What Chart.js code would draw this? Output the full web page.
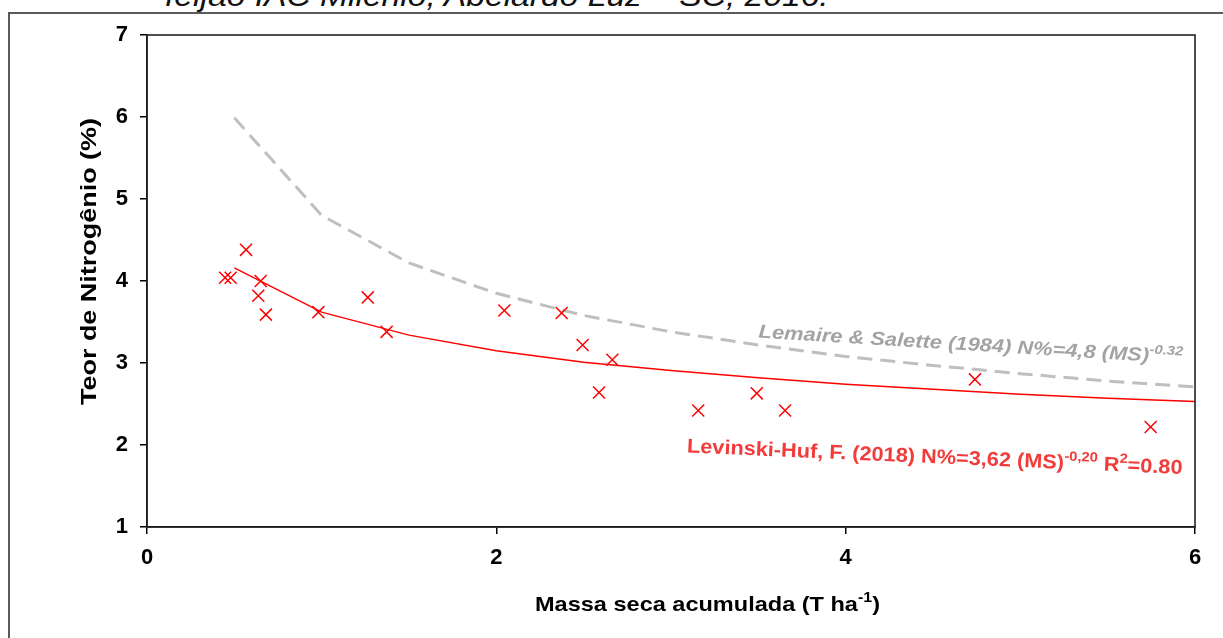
<!DOCTYPE html>
<html>
<head>
<meta charset="utf-8">
<script src="https://cdn.jsdelivr.net/npm/chart.js@4.4.1/dist/chart.umd.min.js"></script>
<style>
  html, body { margin: 0; padding: 0; background: #fff; overflow: hidden; }
  #wrap { position: relative; width: 1223px; height: 638px; }
  #frame { position: absolute; left: 8px; top: 12px; width: 1300px; height: 700px; border: 2px solid #5a5a5a; box-sizing: border-box; }
  #caption { position: absolute; left: 165px; top: -19px; font: italic 30px "Liberation Sans", Arial, sans-serif; line-height: 1; color: #111; white-space: nowrap; transform: scaleX(1.12); transform-origin: left top; }
  canvas { position: absolute; left: 0; top: 0; }
</style>
</head>
<body>
<div id="wrap">
  <div id="frame"></div>
  <div id="caption">feijão IAC Milênio, Abelardo Luz – SC, 2016.</div>
  <canvas id="nChart" width="1223" height="638"></canvas>
</div>
<script>
// observed samples: dry mass (T/ha) vs N content (%)
const massaSeca = [0.447, 0.479, 0.567, 0.651, 0.637, 0.681, 0.981, 1.264, 1.372, 2.046, 2.374, 2.494, 2.664, 2.588, 3.156, 3.491, 3.653, 4.740, 5.746];
const teorN     = [4.04, 4.04, 4.38, 4.00, 3.82, 3.59, 3.62, 3.80, 3.38, 3.64, 3.61, 3.22, 3.04, 2.64, 2.42, 2.63, 2.42, 2.80, 2.22];

// dilution curves, sampled every 0.5 T/ha
const curvaX    = [0.5, 1, 1.5, 2, 2.5, 3, 3.5, 4, 4.5, 5, 5.5, 6];
const lemaireY  = [5.99, 4.80, 4.22, 3.85, 3.58, 3.38, 3.22, 3.08, 2.97, 2.87, 2.78, 2.71];
const levinskiY = [4.16, 3.62, 3.34, 3.15, 3.01, 2.91, 2.82, 2.74, 2.68, 2.62, 2.57, 2.53];

const xTicks = [0, 2, 4, 6];
const yTicks = [1, 2, 3, 4, 5, 6, 7];

const FONT = '"Liberation Sans", Arial, sans-serif';

const pts = (xs, ys) => xs.map((x, i) => ({ x: x, y: ys[i] }));

// width of a run of text pieces (superscripts drawn smaller)
function richWidth(ctx, parts, size, style) {
    let w = 0;
    parts.forEach(p => {
        ctx.font = style + ' ' + (p.sup ? size * 0.68 : size) + 'px ' + FONT;
        w += ctx.measureText(p.t).width;
    });
    return w;
}

// draws the run with its left baseline at the current origin, squeezed/stretched to `width`
function richText(ctx, parts, size, style, width) {
    const natural = richWidth(ctx, parts, size, style);
    ctx.save();
    ctx.scale(width / natural, 1);
    let cx = 0;
    parts.forEach(p => {
        const s = p.sup ? size * 0.68 : size;
        ctx.font = style + ' ' + s + 'px ' + FONT;
        ctx.fillText(p.t, cx, p.sup ? -size * 0.42 : 0);
        cx += ctx.measureText(p.t).width;
    });
    ctx.restore();
}

const extras = {
    id: 'extras',
    afterDraw(chart) {
        const { ctx, chartArea: a, scales: { x, y } } = chart;
        ctx.save();

        // box round the plot area
        ctx.strokeStyle = '#222';
        ctx.lineWidth = 1.6;
        ctx.strokeRect(a.left, a.top, a.right - a.left, a.bottom - a.top);

        ctx.fillStyle = '#000';
        ctx.textBaseline = 'alphabetic';

        // x axis title
        ctx.save();
        ctx.translate(535, 611);
        richText(ctx, [{ t: 'Massa seca acumulada (T ha' }, { t: '-1', sup: true }, { t: ')' }], 21, 'bold', 345);
        ctx.restore();

        // y axis title
        ctx.save();
        ctx.translate(96, 405);
        ctx.rotate(-Math.PI / 2);
        richText(ctx, [{ t: 'Teor de Nitrogênio (%)' }], 22, 'bold', 287);
        ctx.restore();

        // Lemaire & Salette reference curve label
        ctx.save();
        ctx.translate(x.getPixelForValue(3.5), y.getPixelForValue(3.31));
        ctx.rotate(3.5 * Math.PI / 180);
        ctx.fillStyle = '#a3a3a3';
        richText(ctx, [{ t: 'Lemaire & Salette (1984) N%=4,8 (MS)' }, { t: '-0.32', sup: true }], 19, 'italic bold', 425);
        ctx.restore();

        // fitted curve label
        ctx.save();
        ctx.translate(x.getPixelForValue(3.09), y.getPixelForValue(1.91));
        ctx.rotate(2.5 * Math.PI / 180);
        ctx.fillStyle = '#f23b3b';
        richText(ctx, [
            { t: 'Levinski-Huf, F. (2018) N%=3,62 (MS)' }, { t: '-0,20', sup: true },
            { t: ' R' }, { t: '2', sup: true }, { t: '=0.80' }
        ], 20, 'bold', 496);
        ctx.restore();

        ctx.restore();
    }
};

new Chart(document.getElementById('nChart'), {
    type: 'scatter',
    data: {
        datasets: [
            {
                label: 'Lemaire & Salette (1984)',
                data: pts(curvaX, lemaireY),
                showLine: true,
                borderColor: '#bfbfbf',
                borderWidth: 3,
                borderDash: [15, 8],
                pointRadius: 0,
                tension: 0,
                order: 3
            },
            {
                label: 'Levinski-Huf (2018)',
                data: pts(curvaX, levinskiY),
                showLine: true,
                borderColor: '#ff0000',
                borderWidth: 1.5,
                pointRadius: 0,
                tension: 0,
                order: 2
            },
            {
                label: 'Teor de N',
                data: pts(massaSeca, teorN),
                pointStyle: 'crossRot',
                pointRadius: 8.5,
                pointBorderWidth: 1.5,
                borderColor: '#ff0000',
                backgroundColor: '#ff0000',
                order: 1
            }
        ]
    },
    options: {
        responsive: false,
        devicePixelRatio: 1,
        animation: false,
        layout: { padding: { left: 0, top: 35, right: 28, bottom: 0 } },
        plugins: { legend: { display: false }, tooltip: { enabled: false } },
        scales: {
            x: {
                type: 'linear',
                min: 0, max: 6,
                afterFit: s => { s.height = 111; },
                afterBuildTicks: s => { s.ticks = xTicks.map(v => ({ value: v })); },
                grid: { drawOnChartArea: false, drawTicks: true, tickLength: 7, color: '#000', lineWidth: 1.5 },
                border: { color: '#000', width: 1.5 },
                ticks: { color: '#000', padding: 11, font: { family: FONT, size: 22, weight: 'bold' } }
            },
            y: {
                type: 'linear',
                min: 1, max: 7,
                afterFit: s => { s.width = 147; },
                afterBuildTicks: s => { s.ticks = yTicks.map(v => ({ value: v })); },
                grid: { drawOnChartArea: false, drawTicks: true, tickLength: 7, color: '#000', lineWidth: 1.5 },
                border: { color: '#000', width: 1.5 },
                ticks: { color: '#000', padding: 12, font: { family: FONT, size: 22, weight: 'bold' } }
            }
        }
    },
    plugins: [extras]
});
</script>
</body>
</html>
